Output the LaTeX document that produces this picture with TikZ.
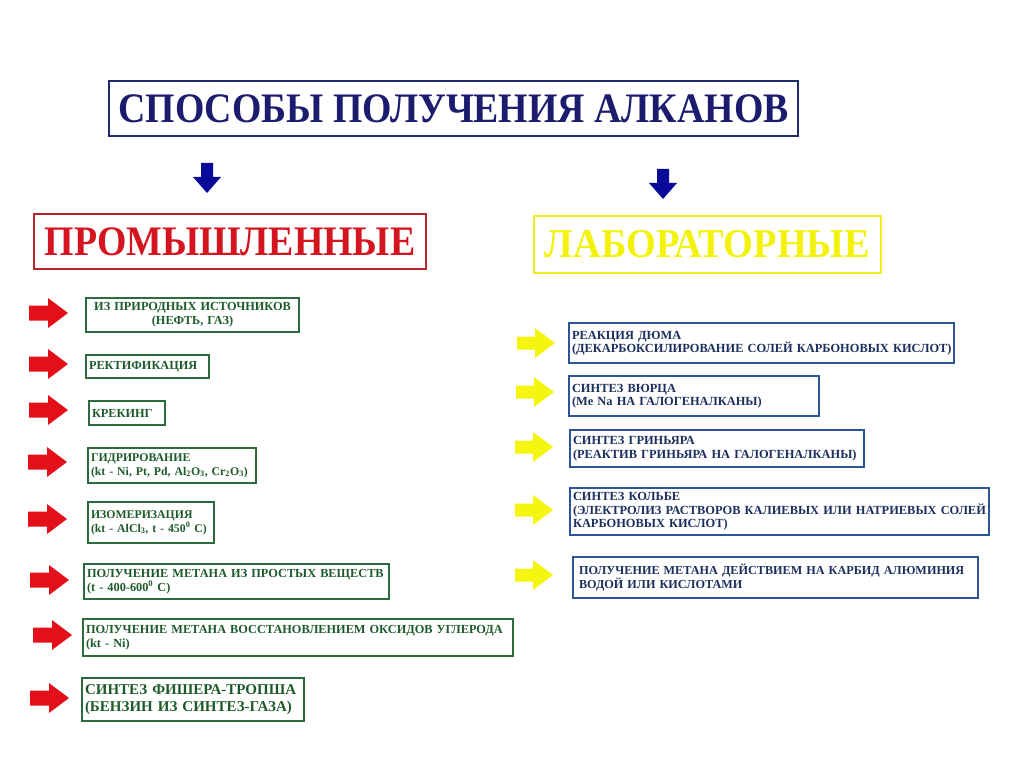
\documentclass[tikz,border=0pt]{standalone}
\usepackage{fontspec}
\setmainfont{Liberation Serif}
\usepackage{graphicx}
\definecolor{navytext}{HTML}{1C1C6E}
\definecolor{navyborder}{HTML}{1F2A6B}
\definecolor{promtext}{HTML}{D4141E}
\definecolor{promborder}{HTML}{B5252E}
\definecolor{labtext}{HTML}{F2F20A}
\definecolor{labborder}{HTML}{EEEE22}
\definecolor{bluearrow}{HTML}{0A0A9A}
\definecolor{redarrow}{HTML}{E3101A}
\definecolor{yelarrow}{HTML}{F5F510}
\definecolor{gborder}{HTML}{2D6A3C}
\definecolor{gtext}{HTML}{1D5A2A}
\definecolor{bborder}{HTML}{2B5597}
\definecolor{btext}{HTML}{1B2E5C}
\tikzset{
  basebox/.style={line width=2pt, anchor=north west, inner xsep=3pt, inner ysep=1pt, align=left},
  gbox/.style={basebox, draw=gborder, text=gtext, font=\fontsize{12.3}{14}\selectfont\bfseries},
  bbox/.style={basebox, draw=bborder, text=btext, font=\fontsize{12.4}{13.5}\selectfont\bfseries},
  rightarr/.pic={\fill (0,-7.5) -- (19,-7.5) -- (19,-15) -- (39,0) -- (19,15) -- (19,7.5) -- (0,7.5) -- cycle;},
  yarr/.pic={\fill (0,-6.5) -- (18,-6.5) -- (18,-15) -- (38,0) -- (18,15) -- (18,6.5) -- (0,6.5) -- cycle;},
  downarr/.pic={\fill (-6,0) -- (6,0) -- (6,14) -- (14,14) -- (0,30) -- (-14,14) -- (-6,14) -- cycle;}
}
\begin{document}
\begin{tikzpicture}[x=1pt,y=-1pt]
\useasboundingbox (0,0) rectangle (1024,767);
% title
\node[draw=navyborder, line width=2pt, text=navytext, anchor=north west, minimum width=689, minimum height=55, inner sep=0pt,
  font=\fontsize{42}{44}\selectfont\bfseries] (title) at (108,80) {\scalebox{0.90}[1]{СПОСОБЫ ПОЛУЧЕНИЯ АЛКАНОВ}};
\pic[fill=bluearrow] (arrL) at (207,163) {downarr};
\pic[fill=bluearrow] (arrR) at (663,169) {downarr};
\node[draw=promborder, line width=2pt, text=promtext, anchor=north west, minimum width=392, minimum height=55, inner sep=0pt,
  font=\fontsize{42}{44}\selectfont\bfseries] (prom) at (33,213) {\scalebox{0.90}[1]{ПРОМЫШЛЕННЫЕ}};
\node[draw=labborder, line width=2pt, text=labtext, anchor=north west, minimum width=347, minimum height=57, inner sep=0pt,
  font=\fontsize{41}{44}\selectfont\bfseries] (lab) at (533,215) {\scalebox{0.935}[1]{ЛАБОРАТОРНЫЕ}};
% left column
\node[gbox, align=center, text width=207, minimum height=34] (l1) at (85,297) {\mbox{ИЗ ПРИРОДНЫХ ИСТОЧНИКОВ}\\(НЕФТЬ, ГАЗ)};
\node[gbox, text width=117, minimum height=23] (l2) at (85,354) {\mbox{РЕКТИФИКАЦИЯ}};
\node[gbox, text width=70, minimum height=24] (l3) at (88,400) {КРЕКИНГ};
\node[gbox, text width=162, minimum height=35, font=\fontsize{11.8}{14}\selectfont\bfseries] (l4) at (87,447) {ГИДРИРОВАНИЕ\\\mbox{(kt - Ni, Pt, Pd, Al\textsubscript{2}O\textsubscript{3}, Cr\textsubscript{2}O\textsubscript{3})}};
\node[gbox, text width=120, minimum height=41, font=\fontsize{11.8}{14}\selectfont\bfseries] (l5) at (87,501) {\mbox{ИЗОМЕРИЗАЦИЯ}\\\mbox{(kt - AlCl\textsubscript{3}, t - 450\textsuperscript{0} C)}};
\node[gbox, text width=299, minimum height=35] (l6) at (83,563) {\mbox{ПОЛУЧЕНИЕ МЕТАНА ИЗ ПРОСТЫХ ВЕЩЕСТВ}\\(t - 400-600\textsuperscript{0} C)};
\node[gbox, text width=424, minimum height=37] (l7) at (82,618) {\mbox{ПОЛУЧЕНИЕ МЕТАНА ВОССТАНОВЛЕНИЕМ ОКСИДОВ УГЛЕРОДА}\\(kt - Ni)};
\node[gbox, text width=216, minimum height=43, font=\fontsize{15}{17}\selectfont\bfseries] (l8) at (81,677) {\mbox{СИНТЕЗ ФИШЕРА-ТРОПША}\\\mbox{(БЕНЗИН ИЗ СИНТЕЗ-ГАЗА)}};
\pic[fill=redarrow] (a1) at (29,313) {rightarr};
\pic[fill=redarrow] (a2) at (29,364) {rightarr};
\pic[fill=redarrow] (a3) at (29,410) {rightarr};
\pic[fill=redarrow] (a4) at (28,462) {rightarr};
\pic[fill=redarrow] (a5) at (28,519) {rightarr};
\pic[fill=redarrow] (a6) at (30,580) {rightarr};
\pic[fill=redarrow] (a7) at (33,635) {rightarr};
\pic[fill=redarrow] (a8) at (30,698) {rightarr};
% right column
\node[bbox, text width=379, minimum height=40] (r1) at (568,322) {РЕАКЦИЯ ДЮМА\\\mbox{(ДЕКАРБОКСИЛИРОВАНИЕ СОЛЕЙ КАРБОНОВЫХ КИСЛОТ)}};
\node[bbox, text width=244, minimum height=40] (r2) at (568,375) {СИНТЕЗ ВЮРЦА\\\mbox{(Me Na НА ГАЛОГЕНАЛКАНЫ)}};
\node[bbox, text width=288, minimum height=37] (r3) at (569,429) {СИНТЕЗ ГРИНЬЯРА\\\mbox{(РЕАКТИВ ГРИНЬЯРА НА ГАЛОГЕНАЛКАНЫ)}};
\node[bbox, text width=413, minimum height=47] (r4) at (569,487) {СИНТЕЗ КОЛЬБЕ\\\mbox{(ЭЛЕКТРОЛИЗ РАСТВОРОВ КАЛИЕВЫХ ИЛИ НАТРИЕВЫХ СОЛЕЙ}\\КАРБОНОВЫХ КИСЛОТ)};
\node[bbox, minimum height=41, inner xsep=6pt, text width=393, font=\fontsize{12.2}{14}\selectfont\bfseries] (r5) at (572,556) {\mbox{ПОЛУЧЕНИЕ МЕТАНА ДЕЙСТВИЕМ НА КАРБИД АЛЮМИНИЯ}\\ВОДОЙ ИЛИ КИСЛОТАМИ};
\pic[fill=yelarrow] (y1) at (517,343) {yarr};
\pic[fill=yelarrow] (y2) at (516,392) {yarr};
\pic[fill=yelarrow] (y3) at (515,447) {yarr};
\pic[fill=yelarrow] (y4) at (515,510) {yarr};
\pic[fill=yelarrow] (y5) at (515,575) {yarr};
\end{tikzpicture}
\end{document}
